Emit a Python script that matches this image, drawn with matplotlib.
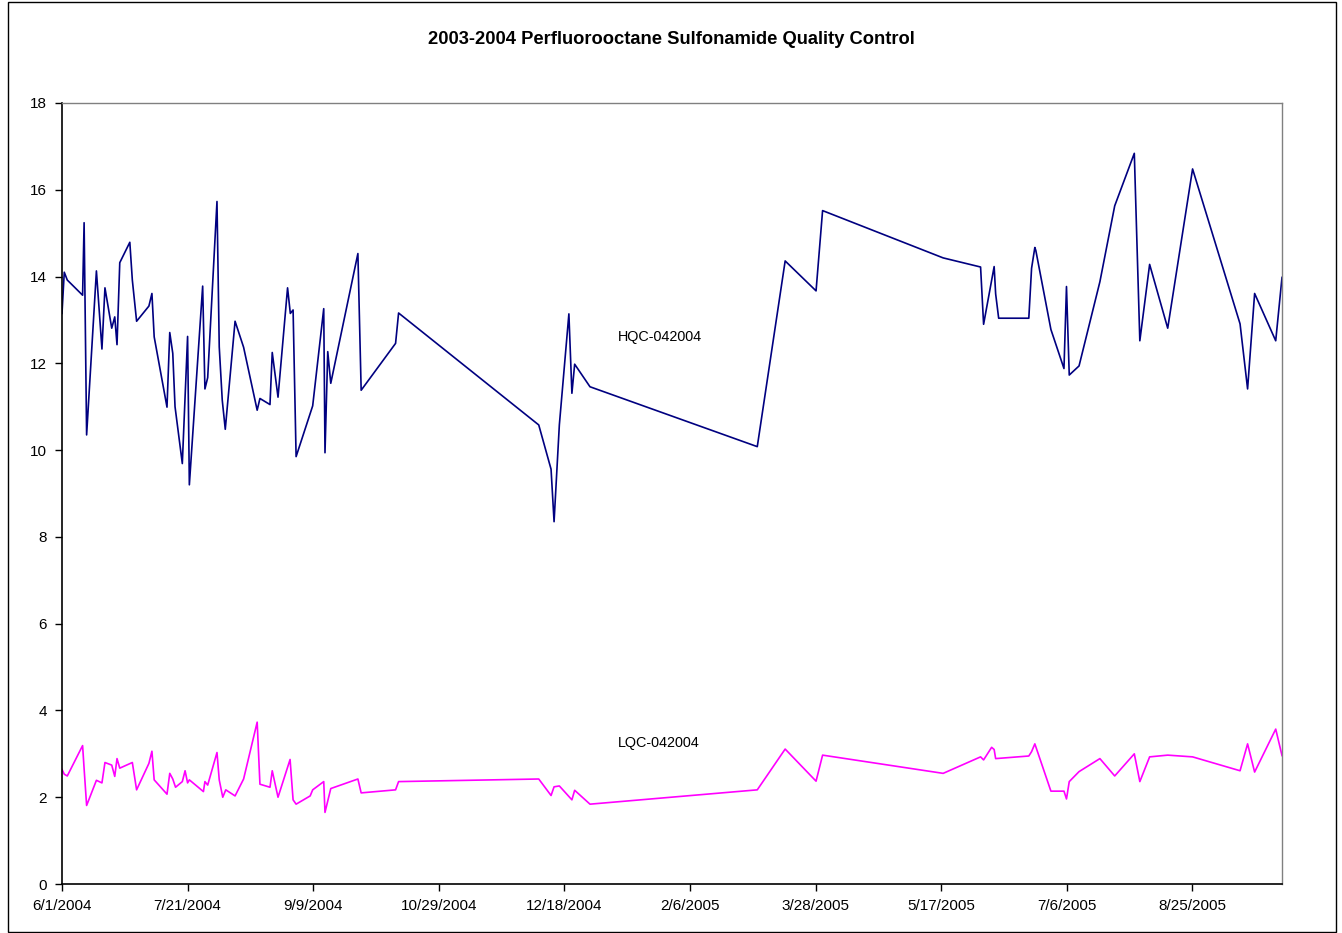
import matplotlib
matplotlib.use("Agg")
import matplotlib.pyplot as plt
import matplotlib.dates as mdates
from matplotlib.patches import Rectangle
import pandas as pd

plt.rcParams['font.family'] = ['Liberation Sans', 'DejaVu Sans']

start = pd.Timestamp("2004-06-01")

# days after 6/1/2004
hqc_days = [0, 0.9, 2.1, 8.2, 8.8, 9.8, 13.7, 15.9, 17.1, 19.8, 21.0, 21.9, 23.0,
            27.0, 28.0, 29.7, 34.6, 35.8, 36.7, 41.8, 42.9, 44.1, 45.0, 47.9, 50.0,
            50.7, 56.0, 56.9, 58.0, 61.7, 62.6, 63.8, 65.0, 68.9, 72.3, 77.7, 78.8,
            82.8, 83.7, 86.0, 89.8, 90.9, 92.0, 93.2, 99.8, 104.2, 104.7, 105.8,
            107.0, 117.8, 119.1, 132.8, 134.0, 189.8, 194.7, 195.9, 198.0, 201.8,
            203.0, 204.1, 210.2, 276.8, 287.9, 300.2, 302.8, 350.8, 365.7, 366.9,
            371.1, 371.7, 372.9, 384.9, 386.0, 387.3, 387.7, 393.7, 398.9, 399.9,
            401.0, 404.9, 413.2, 419.1, 426.9, 429.1, 433.0, 440.2, 450.1, 469.0,
            472.0, 474.8, 483.2, 485.7]
hqc_vals = [13.15, 14.1, 13.92, 13.57, 15.24, 10.35, 14.13, 12.33, 13.74, 12.81, 13.07,
            12.43, 14.32, 14.79, 13.92, 12.97, 13.32, 13.61, 12.61, 10.99, 12.71, 12.23,
            11.0, 9.69, 12.62, 9.2, 13.78, 11.41, 11.67, 15.73, 12.38, 11.15, 10.48,
            12.97, 12.37, 10.92, 11.19, 11.05, 12.25, 11.22, 13.74, 13.15, 13.23, 9.85,
            11.02, 13.26, 9.94, 12.27, 11.54, 14.53, 11.38, 12.46, 13.16, 10.58, 9.56,
            8.35, 10.58, 13.14, 11.31, 11.98, 11.46, 10.08, 14.36, 13.67, 15.52, 14.43,
            14.22, 12.9, 14.23, 13.6, 13.04, 13.04, 14.19, 14.67, 14.6, 12.78, 11.88,
            13.77, 11.73, 11.94, 13.88, 15.63, 16.84, 12.52, 14.28, 12.81, 16.48, 12.91,
            11.41, 13.61, 12.52, 13.98]

lqc_days = [0, 0.9, 2.1, 8.2, 8.8, 9.8, 13.7, 15.9, 17.1, 19.8, 21.0, 21.9, 23.0,
            28.0, 29.7, 34.6, 35.8, 36.7, 41.8, 42.9, 44.1, 45.2, 47.9, 49.0, 50.0,
            50.7, 56.3, 56.9, 58.0, 61.7, 62.6, 64.0, 65.2, 68.9, 72.3, 77.7, 78.8,
            82.8, 83.7, 86.0, 90.8, 92.0, 93.2, 98.8, 99.8, 104.2, 104.7, 107.0,
            117.8, 119.1, 132.8, 134.0, 189.8, 194.7, 195.9, 198.0, 203.0, 204.1,
            210.2, 276.8, 287.9, 300.2, 302.8, 350.8, 365.7, 366.9, 370.1, 371.1,
            371.7, 384.9, 386.0, 387.3, 393.7, 398.9, 399.9, 401.0, 404.9, 413.2,
            419.1, 426.9, 429.1, 433.0, 440.2, 450.1, 469.0, 472.0, 474.8, 483.2, 485.7]
lqc_vals = [2.64, 2.53, 2.49, 3.19, 2.66, 1.81, 2.39, 2.33, 2.80, 2.74, 2.48, 2.89, 2.67,
            2.80, 2.17, 2.78, 3.06, 2.40, 2.07, 2.55, 2.42, 2.23, 2.36, 2.61, 2.33, 2.40,
            2.13, 2.36, 2.28, 3.03, 2.40, 2.00, 2.17, 2.03, 2.42, 3.73, 2.30, 2.23, 2.61,
            2.00, 2.87, 1.94, 1.84, 2.03, 2.17, 2.36, 1.65, 2.20, 2.42, 2.10, 2.17, 2.36,
            2.42, 2.04, 2.24, 2.26, 1.94, 2.16, 1.84, 2.17, 3.11, 2.37, 2.97, 2.55, 2.93,
            2.86, 3.15, 3.10, 2.89, 2.95, 3.05, 3.23, 2.14, 2.14, 1.96, 2.36, 2.59, 2.89,
            2.49, 3.00, 2.36, 2.93, 2.97, 2.93, 2.61, 3.23, 2.58, 3.57, 2.96]

title = "2003-2004 Perfluorooctane Sulfonamide Quality Control"
y_ticks = list(range(0, 19, 2))
tick_step_days = 50
x_end_days = 485.7

base = mdates.date2num(start)
hqc_x = [base + d for d in hqc_days]
lqc_x = [base + d for d in lqc_days]

fig = plt.figure(figsize=(13.42, 9.33), dpi=100)
ax = fig.add_axes([62 / 1342, 1 - 884 / 933, (1282 - 62) / 1342, (884 - 103) / 933])

ax.plot(hqc_x, hqc_vals, color="#000080", lw=1.2)
ax.plot(lqc_x, lqc_vals, color="#FF00FF", lw=1.2)

ax.set_xlim(base, base + x_end_days)
ax.set_ylim(0, 18)
ax.set_yticks(y_ticks)
ax.set_yticklabels([str(v) for v in y_ticks])

tick_dates = pd.date_range(start, periods=10, freq=f"{tick_step_days}D")
ax.set_xticks([mdates.date2num(d) for d in tick_dates])
ax.set_xticklabels([f"{d.month}/{d.day}/{d.year}" for d in tick_dates])

ax.tick_params(axis="both", direction="out", length=5, width=1, labelsize=11, color="black")
ax.tick_params(axis="x", pad=6)
ax.tick_params(axis="y", pad=6)

for s in ["left", "bottom"]:
    ax.spines[s].set_color("black")
    ax.spines[s].set_linewidth(1.2)
for s in ["top", "right"]:
    ax.spines[s].set_color("#808080")
    ax.spines[s].set_linewidth(1.0)

ax.text(base + 221.5, 12.6, "HQC-042004", fontsize=10.4, va="center", ha="left")
ax.text(base + 221.5, 3.25, "LQC-042004", fontsize=10.4, va="center", ha="left")

fig.text(0.5, 1 - 40 / 933, title, ha="center", va="center", fontsize=13.2, fontweight="bold")

# outer chart border
fig.patches.append(Rectangle((8 / 1342, 1 / 933), 1328 / 1342, 930 / 933,
                             transform=fig.transFigure, fill=False,
                             edgecolor="black", lw=1.0))

fig.savefig("out.png", dpi=100)
